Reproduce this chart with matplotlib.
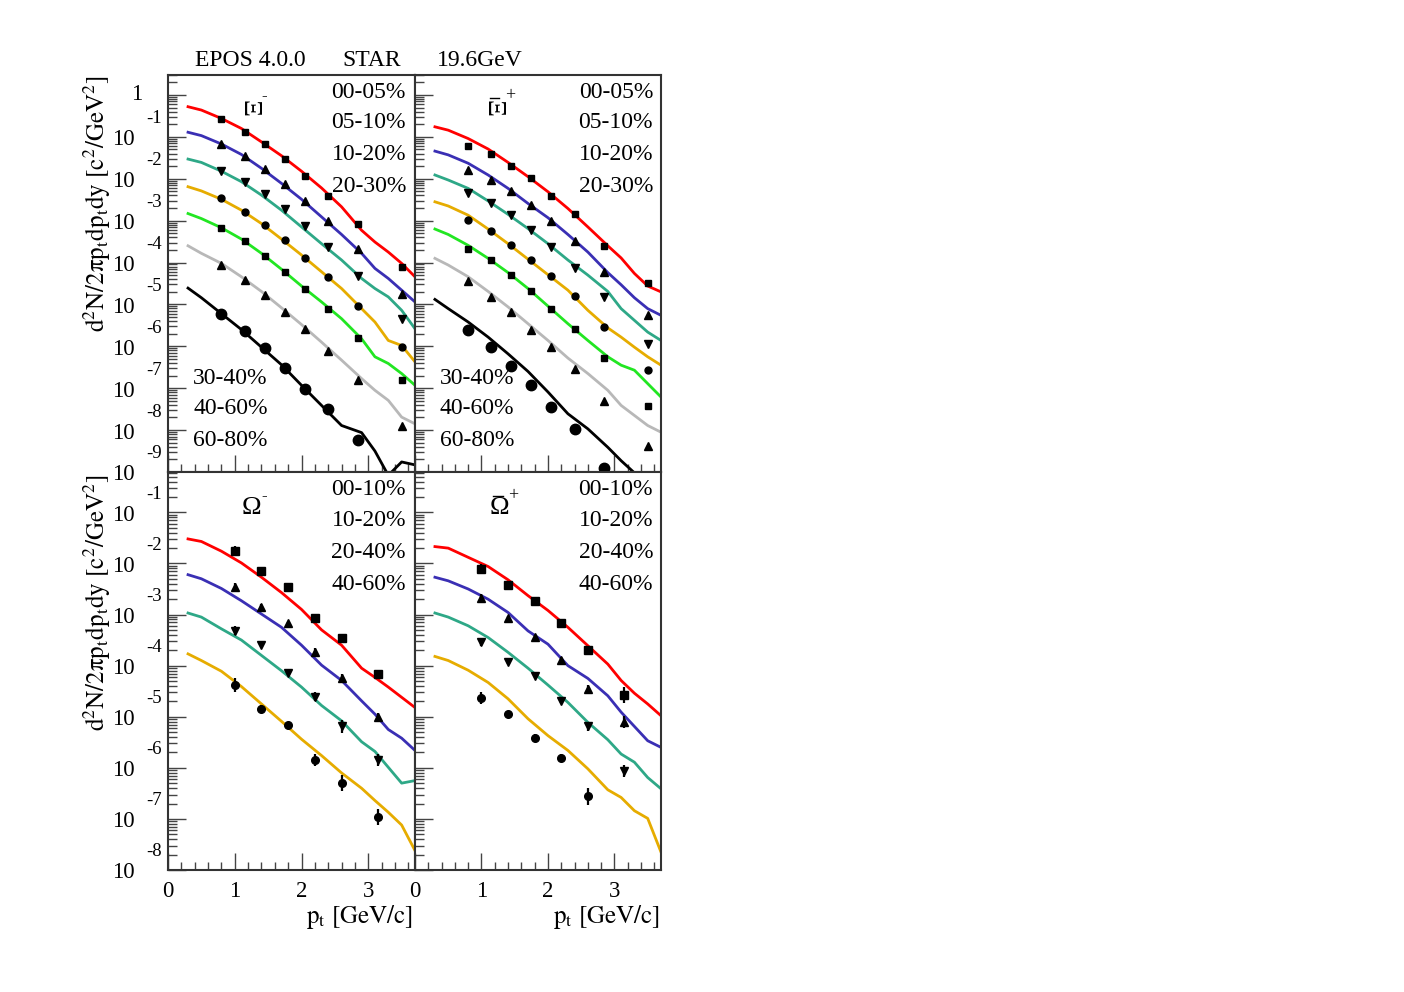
import numpy as np
import matplotlib.pyplot as plt
from matplotlib.lines import Line2D
from matplotlib.ticker import LogLocator, MultipleLocator, NullFormatter, FixedLocator

plt.rcParams['font.family'] = ['Liberation Serif', 'DejaVu Serif']
plt.rcParams['mathtext.fontset'] = 'stix'

W, H = 1404, 992

# pt grids (GeV/c)
ptModel = [0.3, 0.5, 0.8, 1.1, 1.4, 1.7, 2.0, 2.3, 2.6, 2.9, 3.1, 3.3, 3.5, 3.7]
ptXi = [0.8, 1.15, 1.45, 1.75, 2.05, 2.4, 2.85, 3.5]
ptOmega = [1.0, 1.4, 1.8, 2.2, 2.6, 3.15]

xiCent = ["00-05%", "05-10%", "10-20%", "20-30%", "30-40%", "40-60%", "60-80%"]
omegaCent = ["00-10%", "10-20%", "20-40%", "40-60%"]

lineColors = ["#ff0000", "#3a2fb4", "#2ea887", "#e6ac00", "#22e622", "#b8b8b8", "#000000"]
xiMarkers = ["s", "^", "v", "o", "s", "^", "o"]
xiMarkerSizes = [5, 5.5, 5.5, 5, 5, 5.5, 7.5]
omegaMarkers = ["s", "^", "v", "o"]

# log10 of yields (scaled per centrality)
xiMinusModel = [
    [-0.28, -0.36, -0.56, -0.80, -1.12, -1.45, -1.82, -2.22, -2.67, -3.23, -3.51, -3.75, -4.02, -4.34],
    [-0.89, -0.97, -1.17, -1.42, -1.75, -2.11, -2.49, -2.91, -3.33, -3.78, -4.14, -4.38, -4.66, -4.94],
    [-1.53, -1.61, -1.82, -2.07, -2.39, -2.75, -3.15, -3.55, -3.94, -4.38, -4.62, -4.82, -5.14, -5.58],
    [-2.19, -2.29, -2.49, -2.75, -3.07, -3.44, -3.82, -4.22, -4.62, -5.10, -5.42, -5.86, -5.98, -6.37],
    [-2.83, -2.95, -3.17, -3.44, -3.78, -4.16, -4.56, -4.94, -5.34, -5.82, -6.25, -6.41, -6.65, -6.93],
    [-3.60, -3.78, -4.02, -4.34, -4.69, -5.08, -5.48, -5.90, -6.33, -6.77, -7.05, -7.29, -7.69, -7.85],
    [-4.61, -4.84, -5.22, -5.60, -6.02, -6.44, -6.93, -7.41, -7.89, -8.06, -8.50, -9.08, -8.76, -8.83],
]
xiMinusData = [
    [-0.58, -0.88, -1.17, -1.53, -1.93, -2.41, -3.08, -4.10],
    [-1.18, -1.46, -1.77, -2.13, -2.53, -3.00, -3.67, -4.74],
    [-1.81, -2.07, -2.37, -2.73, -3.12, -3.63, -4.33, -5.34],
    [-2.47, -2.79, -3.11, -3.47, -3.88, -4.34, -5.04, -6.02],
    [-3.17, -3.49, -3.85, -4.22, -4.62, -5.10, -5.80, -6.81],
    [-4.05, -4.42, -4.78, -5.18, -5.59, -6.11, -6.80, -7.89],
    [-5.22, -5.64, -6.04, -6.52, -7.01, -7.49, -8.23],
]
xiPlusModel = [
    [-0.76, -0.84, -1.04, -1.29, -1.61, -1.95, -2.31, -2.71, -3.15, -3.60, -3.89, -4.26, -4.56, -4.70],
    [-1.34, -1.43, -1.63, -1.91, -2.23, -2.59, -2.93, -3.33, -3.75, -4.24, -4.53, -4.84, -5.10, -5.26],
    [-1.91, -2.03, -2.23, -2.53, -2.85, -3.19, -3.55, -3.94, -4.30, -4.69, -5.10, -5.38, -5.66, -5.86],
    [-2.55, -2.65, -2.87, -3.20, -3.55, -3.92, -4.29, -4.66, -5.14, -5.56, -5.78, -6.02, -6.25, -6.45],
    [-3.20, -3.33, -3.59, -3.90, -4.24, -4.62, -5.04, -5.46, -5.86, -6.25, -6.45, -6.57, -6.89, -7.21],
    [-3.90, -4.06, -4.34, -4.69, -5.06, -5.46, -5.86, -6.28, -6.65, -7.05, -7.41, -7.65, -7.89, -8.05],
    [-4.88, -5.10, -5.42, -5.78, -6.18, -6.60, -7.09, -7.61, -7.97, -8.41, -8.73, -9.02, -9.32, -9.56],
]
xiPlusData = [
    [-1.21, -1.41, -1.69, -1.99, -2.41, -2.85, -3.61, -4.50],
    [-1.78, -2.02, -2.29, -2.63, -3.00, -3.48, -4.22, -5.26],
    [-2.33, -2.59, -2.87, -3.23, -3.63, -4.12, -4.82, -5.94],
    [-2.99, -3.25, -3.59, -3.93, -4.33, -4.80, -5.55, -6.56],
    [-3.67, -3.94, -4.30, -4.69, -5.10, -5.58, -6.29, -7.43],
    [-4.45, -4.82, -5.18, -5.60, -6.02, -6.55, -7.31, -8.39],
    [-5.62, -6.02, -6.47, -6.93, -7.45, -7.98, -8.91],
]
omMinusModel = [
    [-1.52, -1.57, -1.76, -1.99, -2.27, -2.57, -2.90, -3.30, -3.60, -4.05, -4.23, -4.42, -4.62, -4.82],
    [-2.22, -2.30, -2.49, -2.73, -2.99, -3.25, -3.60, -3.99, -4.29, -4.69, -4.95, -5.25, -5.42, -5.66],
    [-2.97, -3.05, -3.28, -3.50, -3.80, -4.10, -4.42, -4.78, -5.08, -5.49, -5.68, -5.99, -6.30, -6.25],
    [-3.77, -3.90, -4.11, -4.41, -4.75, -5.09, -5.44, -5.76, -6.10, -6.40, -6.64, -6.87, -7.12, -7.62],
]
omMinusData = [
    [-1.75, -2.14, -2.47, -3.07, -3.46, -4.16],
    [-2.47, -2.85, -3.17, -3.73, -4.24, -5.01],
    [-3.32, -3.59, -4.15, -4.61, -5.19, -5.85],
    [-4.38, -4.84, -5.16, -5.84, -6.30, -6.96],
]
omMinusErr = [
    [0.09, 0.03, 0.03, 0.08, 0.07, 0.08],
    [0.09, 0.05, 0.03, 0.08, 0.08, 0.09],
    [0.09, 0.03, 0.04, 0.09, 0.12, 0.12],
    [0.14, 0.07, 0.05, 0.12, 0.16, 0.16],
]
omPlusModel = [
    [-1.67, -1.70, -1.88, -2.06, -2.32, -2.63, -2.92, -3.25, -3.61, -3.97, -4.29, -4.54, -4.75, -4.98],
    [-2.27, -2.34, -2.50, -2.70, -2.96, -3.32, -3.58, -4.00, -4.25, -4.59, -4.91, -5.19, -5.47, -5.60],
    [-2.97, -3.05, -3.22, -3.45, -3.74, -4.05, -4.38, -4.72, -5.11, -5.45, -5.73, -5.89, -6.19, -6.41],
    [-3.82, -3.90, -4.09, -4.33, -4.65, -5.04, -5.37, -5.66, -6.02, -6.43, -6.58, -6.84, -6.99, -7.65],
]
omPlusData = [
    [-2.10, -2.42, -2.74, -3.17, -3.69, -4.57],
    [-2.68, -3.07, -3.43, -3.89, -4.46, -5.11],
    [-3.54, -3.92, -4.20, -4.69, -5.19, -6.06],
    [-4.64, -4.95, -5.41, -5.80, -6.56],
]
omPlusErr = [
    [0.08, 0.02, 0.02, 0.02, 0.07, 0.16],
    [0.09, 0.05, 0.03, 0.05, 0.09, 0.12],
    [0.07, 0.05, 0.03, 0.05, 0.08, 0.12],
    [0.12, 0.05, 0.07, 0.07, 0.16],
]

fig = plt.figure(figsize=(W / 100, H / 100), dpi=100)


def axRect(x0, y0, x1, y1):
    return [x0 / W, 1 - y1 / H, (x1 - x0) / W, (y1 - y0) / H]


def fxy(x, y):
    return x / W, 1 - y / H


axTL = fig.add_axes(axRect(168, 75, 415, 472))
axTR = fig.add_axes(axRect(415, 75, 661, 472))
axBL = fig.add_axes(axRect(168, 472, 415, 870))
axBR = fig.add_axes(axRect(415, 472, 661, 870))


def styleAxis(ax, ymin, ymax, bottomLabels):
    ax.set_yscale("log")
    ax.set_xlim(0, 3.7)
    ax.set_ylim(ymin, ymax)
    ax.yaxis.set_major_locator(LogLocator(base=10, numticks=30))
    ax.yaxis.set_minor_locator(LogLocator(base=10, subs=np.arange(2, 10), numticks=30))
    ax.yaxis.set_major_formatter(NullFormatter())
    ax.yaxis.set_minor_formatter(NullFormatter())
    ax.xaxis.set_major_locator(FixedLocator([0, 1, 2, 3]))
    ax.xaxis.set_minor_locator(MultipleLocator(0.2))
    ax.tick_params(which="both", direction="in", left=True, right=False, top=False, bottom=True,
                   color="#444444", width=1.0)
    ax.tick_params(axis="y", which="major", length=13)
    ax.tick_params(axis="y", which="minor", length=6.5)
    ax.tick_params(axis="x", which="major", length=12)
    ax.tick_params(axis="x", which="minor", length=5.5)
    ax.tick_params(axis="x", labelbottom=bottomLabels, labelsize=16.5, pad=8)
    for sp in ax.spines.values():
        sp.set_linewidth(1.5)
        sp.set_color("#333333")


def drawYLabels(ax, decades):
    for d in decades:
        if d == 0:
            ax.annotate("1", xy=(0, 1.0), xycoords=("axes fraction", "data"),
                        xytext=(-26, 0), textcoords="offset pixels",
                        ha="right", va="center", fontsize=16.5)
        else:
            ax.annotate("10", xy=(0, 10.0 ** d), xycoords=("axes fraction", "data"),
                        xytext=(-33, -3), textcoords="offset pixels",
                        ha="right", va="center", fontsize=16.5)
            ax.annotate("-%d" % abs(d), xy=(0, 10.0 ** d), xycoords=("axes fraction", "data"),
                        xytext=(-22, 18), textcoords="offset pixels",
                        ha="left", va="center", fontsize=13.5)


def drawXi(ax, model, data):
    for i in range(len(model)):
        ax.plot(ptModel, 10.0 ** np.array(model[i]), color=lineColors[i], lw=2.0, zorder=2)
        d = np.array(data[i])
        ax.plot(ptXi[:len(d)], 10.0 ** d, ls="none", marker=xiMarkers[i],
                ms=xiMarkerSizes[i], color="k", mec="k", zorder=3)


def drawOmega(ax, model, data, err):
    for i in range(len(model)):
        ax.plot(ptModel, 10.0 ** np.array(model[i]), color=lineColors[i], lw=2.0, zorder=2)
        d = np.array(data[i])
        e = np.array(err[i])
        v = 10.0 ** d
        lo = v - 10.0 ** (d - e)
        hi = 10.0 ** (d + e) - v
        ax.errorbar(ptOmega[:len(d)], v, yerr=[lo, hi], fmt=omegaMarkers[i], ms=5.5,
                    color="k", ecolor="k", elinewidth=1.6, capsize=0, zorder=3)


styleAxis(axTL, 1e-9, 3.0, False)
styleAxis(axTR, 1e-9, 3.0, False)
styleAxis(axBL, 1e-8, 10 ** -0.21, True)
styleAxis(axBR, 1e-8, 10 ** -0.21, True)

drawXi(axTL, xiMinusModel, xiMinusData)
drawXi(axTR, xiPlusModel, xiPlusData)
drawOmega(axBL, omMinusModel, omMinusData, omMinusErr)
drawOmega(axBR, omPlusModel, omPlusData, omPlusErr)

drawYLabels(axTL, range(0, -10, -1))
drawYLabels(axBL, range(-1, -9, -1))

# header
fs = 17
fig.text(*fxy(195, 61), "EPOS 4.0.0", ha="left", va="center", fontsize=fs)
fig.text(*fxy(342, 61), "STAR", ha="left", va="center", fontsize=fs)
fig.text(*fxy(437, 61), "19.6GeV", ha="left", va="center", fontsize=fs)

# centrality labels
topY = [92, 123, 155, 186]
lowY = [378, 409, 441]
for j in range(4):
    fig.text(*fxy(406, topY[j]), xiCent[j], ha="right", va="center", fontsize=fs)
    fig.text(*fxy(653, topY[j]), xiCent[j], ha="right", va="center", fontsize=fs)
for j in range(3):
    fig.text(*fxy(193, lowY[j]), xiCent[4 + j], ha="left", va="center", fontsize=fs)
    fig.text(*fxy(440, lowY[j]), xiCent[4 + j], ha="left", va="center", fontsize=fs)
omY = [490, 521, 553, 585]
for j in range(4):
    fig.text(*fxy(406, omY[j]), omegaCent[j], ha="right", va="center", fontsize=fs)
    fig.text(*fxy(653, omY[j]), omegaCent[j], ha="right", va="center", fontsize=fs)

# particle labels (Xi drawn turned on its side, as in the original)
fig.text(*fxy(260, 108), "\u039e", rotation=270, ha="right", va="center", fontsize=19)
fig.text(*fxy(261, 96), "-", ha="left", va="center", fontsize=12)
fig.text(*fxy(504, 108), "\u039e", rotation=270, ha="right", va="center", fontsize=19)
fig.add_artist(Line2D([490 / W, 499 / W], [1 - 98 / H, 1 - 98 / H], color="k", lw=1.0))
fig.text(*fxy(505, 96), "+", ha="left", va="center", fontsize=13)
fig.text(*fxy(251, 508), "\u03a9", ha="center", va="center", fontsize=19)
fig.text(*fxy(264, 496), "-", ha="center", va="center", fontsize=12)
fig.text(*fxy(499, 508), "\u03a9", ha="center", va="center", fontsize=19)
fig.add_artist(Line2D([493 / W, 503 / W], [1 - 496 / H, 1 - 496 / H], color="k", lw=1.0))
fig.text(*fxy(513, 496), "+", ha="center", va="center", fontsize=13)

# axis titles
yTitle = r"$\mathrm{d^{2}N/2\pi p_{t}dp_{t}dy\ [c^{2}/GeV^{2}]}$"
fig.text(*fxy(97, 75), yTitle, rotation=90, ha="center", va="top", fontsize=18)
fig.text(*fxy(97, 474), yTitle, rotation=90, ha="center", va="top", fontsize=18)
xTitle = r"$\mathrm{p_{t}\ [GeV/c]}$"
fig.text(*fxy(413, 917), xTitle, ha="right", va="center", fontsize=18)
fig.text(*fxy(660, 917), xTitle, ha="right", va="center", fontsize=18)

fig.savefig("out.png", dpi=100)
